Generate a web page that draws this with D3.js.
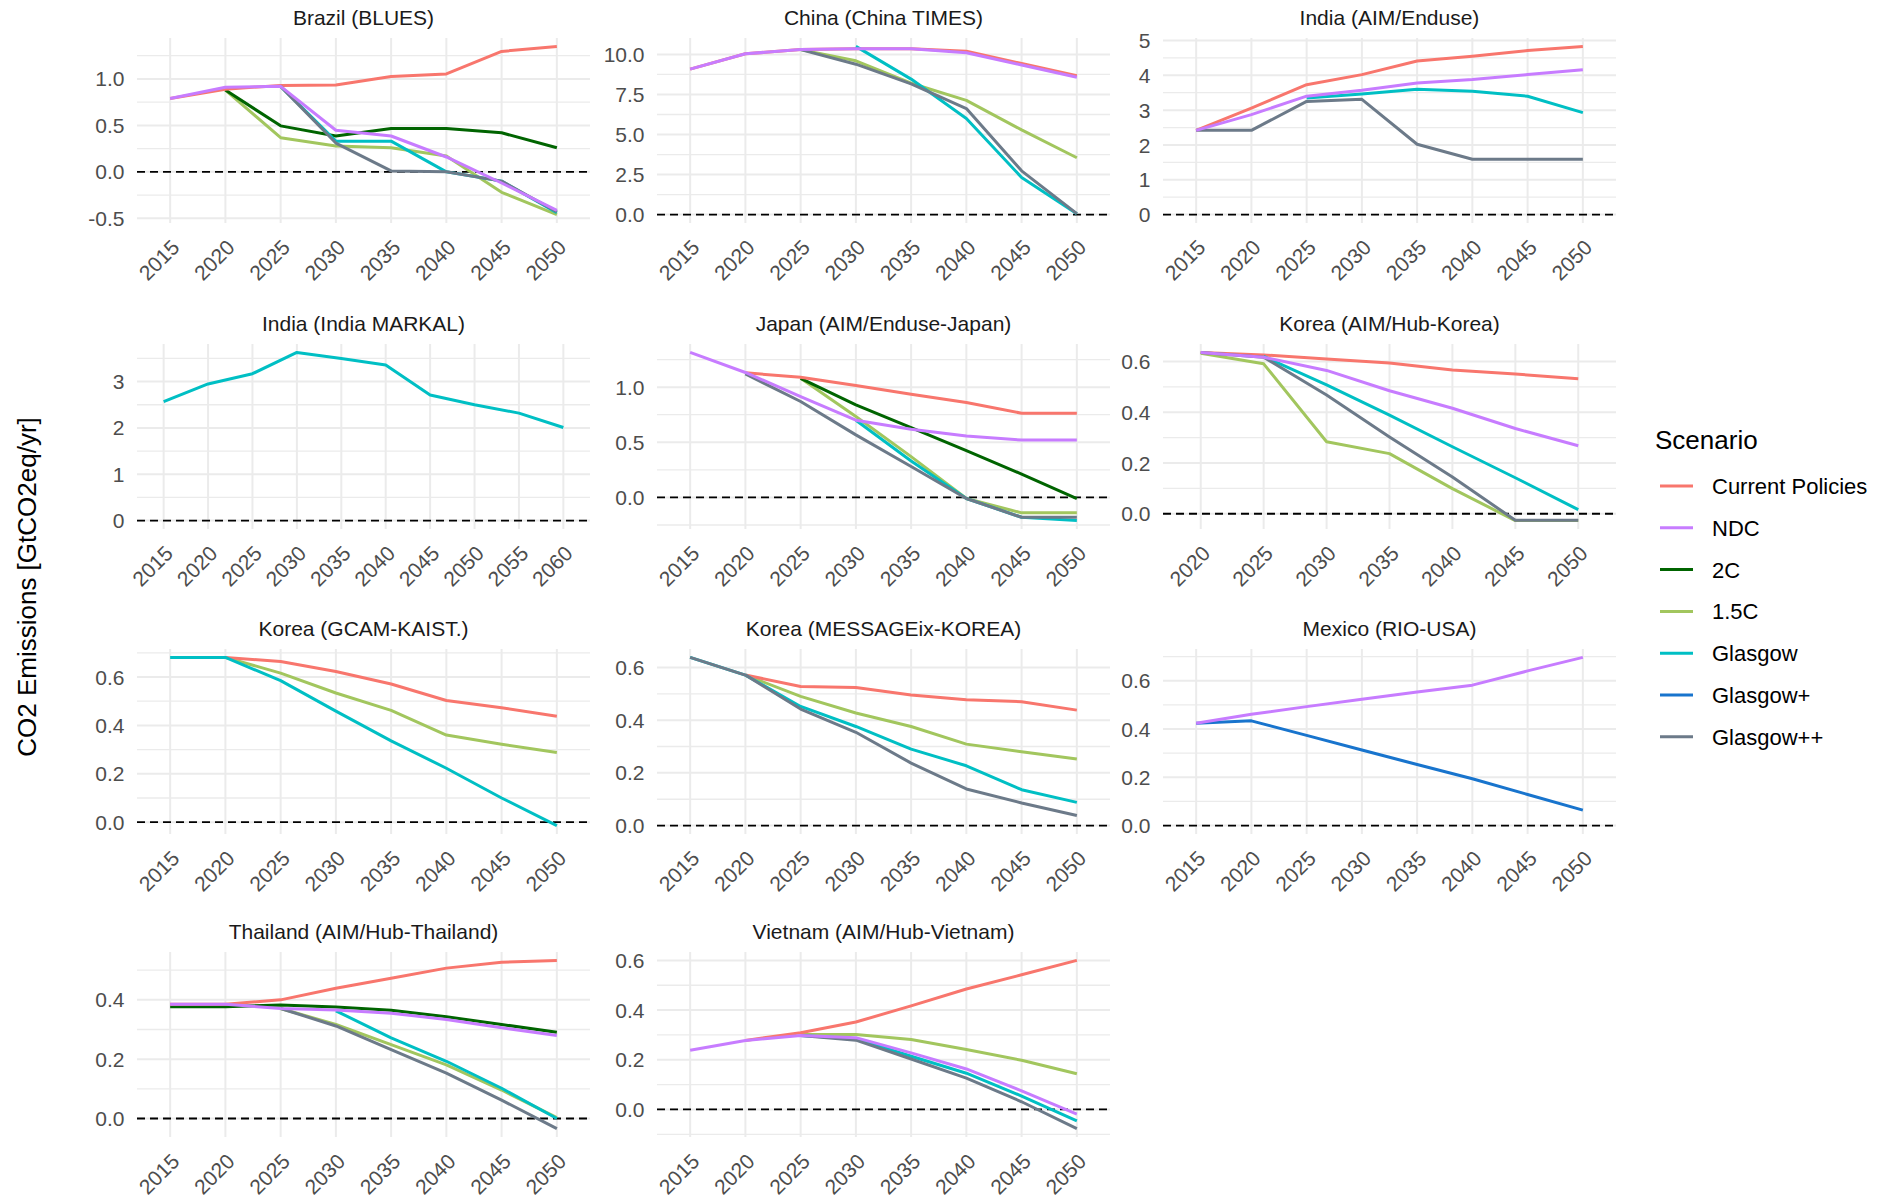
<!DOCTYPE html>
<html><head><meta charset="utf-8">
<script src="https://cdn.jsdelivr.net/npm/d3@7"></script>
<style>html,body{margin:0;padding:0;background:#fff;}</style>
</head><body>
<svg id="chart" width="1878" height="1201"></svg>
<script>
// ---------- data ----------
const scenarios = ["Current Policies","NDC","2C","1.5C","Glasgow","Glasgow+","Glasgow++"];
const scenarioColors = ["#F8766D","#C77CFF","#006400","#A2C65E","#00BFC4","#1874CD","#6C7A89"];
const drawOrder = ["1.5C","2C","Current Policies","Glasgow","Glasgow+","Glasgow++","NDC"];

const years = [2015,2020,2025,2030,2035,2040,2045,2050];
const yearsMarkal = [2015,2020,2025,2030,2035,2040,2045,2050,2055,2060];
const yearsKoreaHub = [2020,2025,2030,2035,2040,2045,2050];

const panelTitles = ["Brazil (BLUES)","China (China TIMES)","India (AIM/Enduse)","India (India MARKAL)",
  "Japan (AIM/Enduse-Japan)","Korea (AIM/Hub-Korea)","Korea (GCAM-KAIST.)","Korea (MESSAGEix-KOREA)",
  "Mexico (RIO-USA)","Thailand (AIM/Hub-Thailand)","Vietnam (AIM/Hub-Vietnam)"];

const brazil = {
  "Current Policies": [0.79,0.89,0.93,0.935,1.025,1.054,1.296,1.35],
  "NDC":              [0.79,0.91,0.92,0.448,0.386,0.16,-0.12,-0.415],
  "2C":               [null,0.88,0.495,0.386,0.466,0.466,0.42,0.26],
  "1.5C":             [null,0.88,0.368,0.278,0.26,0.17,-0.22,-0.46],
  "Glasgow":          [null,null,0.92,0.33,0.33,0.0,-0.10,-0.44],
  "Glasgow++":        [null,null,0.92,0.31,0.01,0.0,-0.10,-0.43]
};
const china = {
  "Current Policies": [9.08,10.04,10.3,10.35,10.35,10.2,9.43,8.67],
  "NDC":              [9.08,10.04,10.3,10.35,10.35,10.1,9.34,8.57],
  "1.5C":             [null,null,10.3,9.6,8.2,7.13,5.29,3.55],
  "Glasgow":          [null,null,null,10.5,8.46,6.0,2.32,0.05],
  "Glasgow++":        [null,null,10.3,9.39,8.16,6.62,2.73,0.06]
};
const indiaAim = {
  "Current Policies": [2.42,3.06,3.73,4.02,4.41,4.55,4.71,4.83],
  "NDC":              [2.42,2.87,3.4,3.57,3.78,3.88,4.02,4.16],
  "Glasgow":          [null,null,3.35,3.46,3.6,3.54,3.4,2.93],
  "Glasgow++":        [2.42,2.42,3.25,3.31,2.02,1.59,1.59,1.59]
};
const indiaMarkal = {
  "Glasgow": [2.57,2.95,3.17,3.63,3.5,3.36,2.71,2.5,2.32,2.01]
};
const japan = {
  "Current Policies": [null,1.13,1.09,1.015,0.936,0.86,0.764,0.764],
  "NDC":              [1.315,1.133,0.915,0.70,0.618,0.558,0.52,0.52],
  "2C":               [null,null,1.08,0.84,0.633,0.424,0.212,-0.01],
  "1.5C":             [null,null,1.08,0.733,0.37,-0.01,-0.14,-0.14],
  "Glasgow":          [null,null,null,0.70,0.33,-0.01,-0.18,-0.21],
  "Glasgow++":        [null,1.12,0.87,0.567,0.28,-0.01,-0.18,-0.18]
};
const koreaHub = {
  "Current Policies": [0.636,0.626,0.61,0.594,0.567,0.551,0.532],
  "NDC":              [0.636,0.617,0.565,0.485,0.416,0.336,0.268],
  "1.5C":             [0.633,0.591,0.284,0.237,0.099,-0.027,-0.027],
  "Glasgow":          [null,0.62,0.508,0.389,0.264,0.142,0.016],
  "Glasgow++":        [0.636,0.617,0.468,0.303,0.145,-0.026,-0.026]
};
const koreaGcam = {
  "Current Policies": [null,0.681,0.664,0.623,0.571,0.503,0.473,0.438],
  "1.5C":             [null,0.681,0.616,0.534,0.462,0.36,0.322,0.288],
  "Glasgow":          [0.681,0.681,0.585,0.459,0.336,0.223,0.1,-0.014]
};
const koreaMessage = {
  "Current Policies": [null,0.571,0.528,0.524,0.495,0.477,0.47,0.438],
  "1.5C":             [null,0.571,0.49,0.427,0.376,0.309,0.28,0.253],
  "Glasgow":          [0.638,0.571,0.452,0.376,0.29,0.227,0.136,0.088],
  "Glasgow++":        [0.638,0.571,0.442,0.354,0.237,0.139,0.086,0.038]
};
const mexico = {
  "NDC":       [0.424,0.461,0.493,0.524,0.554,0.582,0.641,0.697],
  "Glasgow+":  [0.424,0.434,0.374,0.313,0.253,0.194,0.129,0.064]
};
const thailand = {
  "Current Policies": [0.385,0.385,0.4,0.439,0.473,0.507,0.527,0.533],
  "NDC":              [0.385,0.385,0.371,0.366,0.355,0.334,0.306,0.28],
  "2C":               [0.377,0.377,0.383,0.376,0.365,0.343,0.317,0.291],
  "1.5C":             [null,null,0.371,0.317,0.249,0.181,0.096,0.003],
  "Glasgow":          [null,null,null,0.363,0.272,0.193,0.102,0.0],
  "Glasgow++":        [null,null,0.371,0.312,0.232,0.153,0.062,-0.034]
};
const vietnam = {
  "Current Policies": [null,0.278,0.309,0.352,0.417,0.485,0.542,0.6],
  "NDC":              [0.238,0.278,0.298,0.289,0.228,0.163,0.075,-0.019],
  "1.5C":             [null,null,0.302,0.302,0.282,0.241,0.198,0.144],
  "Glasgow":          [null,null,0.298,0.285,0.214,0.146,0.054,-0.046],
  "Glasgow++":        [null,null,0.298,0.279,0.203,0.126,0.031,-0.077]
};

const panelSeries = [brazil,china,indiaAim,indiaMarkal,japan,koreaHub,koreaGcam,koreaMessage,mexico,thailand,vietnam];
const panelYears = [years,years,years,yearsMarkal,years,yearsKoreaHub,years,years,years,years,years];
const panelYTicks = [
  ["-0.5","0.0","0.5","1.0"],
  ["0.0","2.5","5.0","7.5","10.0"],
  ["0","1","2","3","4","5"],
  ["0","1","2","3"],
  ["0.0","0.5","1.0"],
  ["0.0","0.2","0.4","0.6"],
  ["0.0","0.2","0.4","0.6"],
  ["0.0","0.2","0.4","0.6"],
  ["0.0","0.2","0.4","0.6"],
  ["0.0","0.2","0.4"],
  ["0.0","0.2","0.4","0.6"]
];
const yAxisTitle = "CO2 Emissions [GtCO2eq/yr]";
const legendTitle = "Scenario";

// ---------- layout ----------
const FONT = "'Liberation Sans', Arial, Helvetica, sans-serif";
const colLefts = [137, 657, 1163];
const rowTops = [38, 344, 649, 952];
const panelW = 453, panelH = 185;
const color = d3.scaleOrdinal().domain(scenarios).range(scenarioColors);

const svg = d3.select("#chart");
svg.append("rect").attr("width",1878).attr("height",1201).attr("fill","#fff");

panelTitles.forEach((title, i) => {
  const col = i % 3, row = Math.floor(i / 3);
  const x0 = colLefts[col], x1 = x0 + panelW;
  const y0 = rowTops[row], y1 = y0 + panelH;
  const yrs = panelYears[i];
  const series = panelSeries[i];
  const g = svg.append("g");

  const x = d3.scalePoint().domain(yrs).range([x0, x1]).padding(0.6);
  let vals = [0];
  Object.values(series).forEach(a => a.forEach(v => { if (v != null) vals.push(v); }));
  const lo = d3.min(vals), hi = d3.max(vals), r = hi - lo;
  const y = d3.scaleLinear().domain([lo - 0.05 * r, hi + 0.05 * r]).range([y1, y0]);

  const ticks = panelYTicks[i].map(Number);
  const step = ticks[1] - ticks[0];
  const minors = [];
  for (let k = -1; k < ticks.length; k++) {
    const m = ticks[0] + step * (k + 0.5);
    if (m >= y.domain()[0] && m <= y.domain()[1]) minors.push(m);
  }
  g.selectAll(".minor").data(minors).join("line")
    .attr("x1", x0).attr("x2", x1).attr("y1", d => y(d)).attr("y2", d => y(d))
    .attr("stroke", "#EBEBEB").attr("stroke-width", 1.3);
  g.selectAll(".major").data(ticks).join("line")
    .attr("x1", x0).attr("x2", x1).attr("y1", d => y(d)).attr("y2", d => y(d))
    .attr("stroke", "#EBEBEB").attr("stroke-width", 2);
  g.selectAll(".vgrid").data(yrs).join("line")
    .attr("x1", d => x(d)).attr("x2", d => x(d)).attr("y1", y0).attr("y2", y1)
    .attr("stroke", "#EBEBEB").attr("stroke-width", 2);

  g.append("line").attr("x1", x0).attr("x2", x1).attr("y1", y(0)).attr("y2", y(0))
    .attr("stroke", "#000").attr("stroke-width", 1.8).attr("stroke-dasharray", "8,5");

  const line = d3.line().defined(d => d.v != null).x(d => x(d.year)).y(d => y(d.v));
  drawOrder.forEach(s => {
    if (!series[s]) return;
    const pts = yrs.map((yr, k) => ({ year: yr, v: series[s][k] }));
    g.append("path").attr("d", line(pts)).attr("fill", "none")
      .attr("stroke", color(s)).attr("stroke-width", 3)
      .attr("stroke-linejoin", "round").attr("stroke-linecap", "butt");
  });

  g.selectAll(".ylab").data(panelYTicks[i]).join("text")
    .attr("x", x0 - 12.5).attr("y", d => y(+d)).attr("dy", "0.36em")
    .attr("text-anchor", "end").attr("font-family", FONT).attr("font-size", 21)
    .attr("fill", "#4D4D4D").text(d => d);

  g.selectAll(".xlab").data(yrs).join("text")
    .attr("transform", d => `translate(${x(d)},${y1 + 15}) rotate(-45)`)
    .attr("dy", "0.72em").attr("text-anchor", "end")
    .attr("font-family", FONT).attr("font-size", 21).attr("fill", "#4D4D4D")
    .text(d => d);

  g.append("text").attr("x", (x0 + x1) / 2).attr("y", y0 - 13)
    .attr("text-anchor", "middle").attr("font-family", FONT).attr("font-size", 21)
    .attr("fill", "#1A1A1A").text(title);
});

svg.append("text").attr("transform", "translate(36,587) rotate(-90)")
  .attr("text-anchor", "middle").attr("font-family", FONT).attr("font-size", 26)
  .attr("fill", "#000").text(yAxisTitle);

const lg = svg.append("g");
lg.append("text").attr("x", 1655).attr("y", 449).attr("font-family", FONT)
  .attr("font-size", 26).attr("fill", "#000").text(legendTitle);
scenarios.forEach((s, k) => {
  const yy = 486 + 41.8 * k;
  lg.append("line").attr("x1", 1660).attr("x2", 1693).attr("y1", yy).attr("y2", yy)
    .attr("stroke", color(s)).attr("stroke-width", 3);
  lg.append("text").attr("x", 1712).attr("y", yy).attr("dy", "0.36em")
    .attr("font-family", FONT).attr("font-size", 22).attr("fill", "#000").text(s);
});
</script>
</body></html>
